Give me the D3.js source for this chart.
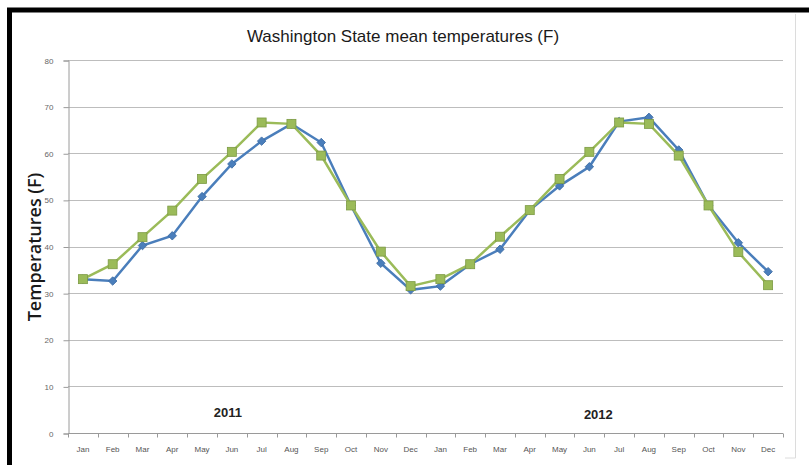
<!DOCTYPE html>
<html>
<head>
<meta charset="utf-8">
<script src="https://d3js.org/d3.v7.min.js"></script>
<style>
  body { margin: 0; background: #fff; }
</style>
</head>
<body>
<div id="chart"></div>
<script>
// month labels for two years
var months = ["Jan","Feb","Mar","Apr","May","Jun","Jul","Aug","Sep","Oct","Nov","Dec",
              "Jan","Feb","Mar","Apr","May","Jun","Jul","Aug","Sep","Oct","Nov","Dec"];
// blue series (diamonds)
var actual = [33.0, 32.6, 40.2, 42.3, 50.7, 57.7, 62.6, 66.3, 62.3, 48.8, 36.4, 30.7,
              31.5, 36.2, 39.4, 47.8, 53.0, 57.1, 66.8, 67.7, 60.7, 48.8, 40.8, 34.6];
// green series (squares)
var normal = [33.0, 36.2, 42.0, 47.7, 54.5, 60.3, 66.6, 66.3, 59.5, 48.8, 38.9, 31.5,
              33.0, 36.2, 42.1, 47.8, 54.5, 60.3, 66.6, 66.3, 59.5, 48.8, 38.8, 31.7];
var yTicks = [0, 10, 20, 30, 40, 50, 60, 70, 80];
var years = ["2011", "2012"];

var W = 809, H = 465;
var pLeft = 68, pRight = 783, pTop = 60, pBottom = 433;

var svg = d3.select("#chart").append("svg")
    .attr("width", W).attr("height", H);

svg.append("rect").attr("width", W).attr("height", H).attr("fill", "#fff");

// frame: thick black on left and top, faint grey on right/bottom
svg.append("path")
    .attr("d", "M9.5,465 L9.5,10 L809,10")
    .attr("fill", "none").attr("stroke", "#000").attr("stroke-width", 5);
svg.append("path")
    .attr("d", "M795.5,14 L795.5,458 L785,458")
    .attr("fill", "none").attr("stroke", "#dcdcdc").attr("stroke-width", 1);

var x = d3.scaleBand().domain(d3.range(months.length)).range([pLeft, pRight]);
var y = d3.scaleLinear().domain([0, 80]).range([pBottom, pTop]);
var cx = function(i) { return x(i) + x.bandwidth() / 2; };

// gridlines
svg.append("g").selectAll("line")
    .data(yTicks.filter(function(d) { return d > 0; }))
    .enter().append("line")
    .attr("x1", pLeft).attr("x2", pRight)
    .attr("y1", function(d) { return Math.round(y(d)) + 0.5; })
    .attr("y2", function(d) { return Math.round(y(d)) + 0.5; })
    .attr("stroke", "#bdbdbd").attr("stroke-width", 1);

// y axis
var yAxis = svg.append("g")
    .attr("transform", "translate(" + (pLeft + 0.5) + ",0.5)")
    .call(d3.axisLeft(y).tickValues(yTicks).tickSize(5).tickPadding(10));
yAxis.select(".domain").attr("stroke", "#9a9a9a");
yAxis.selectAll(".tick line").attr("stroke", "#9a9a9a");
yAxis.selectAll("text")
    .attr("font-family", "Liberation Sans, Arial, sans-serif")
    .attr("font-size", 8).attr("fill", "#666");

// x axis with ticks at the category boundaries
var xb = svg.append("g").attr("transform", "translate(0," + (pBottom + 0.5) + ")");
xb.append("line").attr("x1", pLeft).attr("x2", pRight)
    .attr("stroke", "#9a9a9a");
xb.selectAll(".tk").data(d3.range(months.length + 1)).enter().append("line")
    .attr("class", "tk")
    .attr("x1", function(i) { return Math.round(pLeft + i * x.bandwidth()) + 0.5; })
    .attr("x2", function(i) { return Math.round(pLeft + i * x.bandwidth()) + 0.5; })
    .attr("y1", 0).attr("y2", 4).attr("stroke", "#9a9a9a");
xb.selectAll(".lbl").data(months).enter().append("text")
    .attr("class", "lbl")
    .attr("x", function(d, i) { return cx(i); })
    .attr("y", 18)
    .attr("text-anchor", "middle")
    .attr("font-family", "Liberation Sans, Arial, sans-serif")
    .attr("font-size", 8).attr("fill", "#555")
    .text(function(d) { return d; });

// lines
var line = d3.line().x(function(d, i) { return cx(i); }).y(function(d) { return y(d); });

svg.append("path").datum(actual)
    .attr("d", line).attr("fill", "none")
    .attr("stroke", "#4a7ebb").attr("stroke-width", 2.5);
// square-ish diamond markers (rotated squares)
svg.append("g").selectAll("rect").data(actual).enter().append("rect")
    .attr("x", -3).attr("y", -3).attr("width", 6).attr("height", 6)
    .attr("transform", function(d, i) { return "translate(" + cx(i) + "," + y(d) + ") rotate(45)"; })
    .attr("fill", "#4a7ebb").attr("stroke", "#3c6ba3").attr("stroke-width", 0.8);

svg.append("path").datum(normal)
    .attr("d", line).attr("fill", "none")
    .attr("stroke", "#9bbb59").attr("stroke-width", 2.5);
svg.append("g").selectAll("rect").data(normal).enter().append("rect")
    .attr("x", function(d, i) { return cx(i) - 4.5; })
    .attr("y", function(d) { return y(d) - 4.5; })
    .attr("width", 9).attr("height", 9)
    .attr("fill", "#9bbb59").attr("stroke", "#7c9a43").attr("stroke-width", 0.8);

// year labels, placed under the middle of each year's months
svg.append("g").selectAll("text").data(years).enter().append("text")
    .attr("x", function(d, i) { return i === 0 ? cx(5) - 4 : cx(17) + 9; })
    .attr("y", function(d, i) { return i === 0 ? 417 : 419; })
    .attr("text-anchor", "middle")
    .attr("font-family", "Liberation Sans, Arial, sans-serif")
    .attr("font-weight", "bold").attr("font-size", 13).attr("fill", "#222")
    .text(function(d) { return d; });

// title
svg.append("text")
    .attr("x", 403).attr("y", 42)
    .attr("text-anchor", "middle")
    .attr("font-family", "Liberation Sans Narrow, Liberation Sans, Arial, sans-serif")
    .attr("font-size", 17).attr("fill", "#1a1a1a")
    .text("Washington State mean temperatures (F)");

// y axis title
svg.append("text")
    .attr("transform", "translate(41,247) rotate(-90)")
    .attr("text-anchor", "middle")
    .attr("font-family", "Open Sans, DejaVu Sans, sans-serif")
    .attr("font-weight", 600).attr("font-size", 18).attr("fill", "#1a1a1a")
    .text("Temperatures (F)");
</script>
</body>
</html>
